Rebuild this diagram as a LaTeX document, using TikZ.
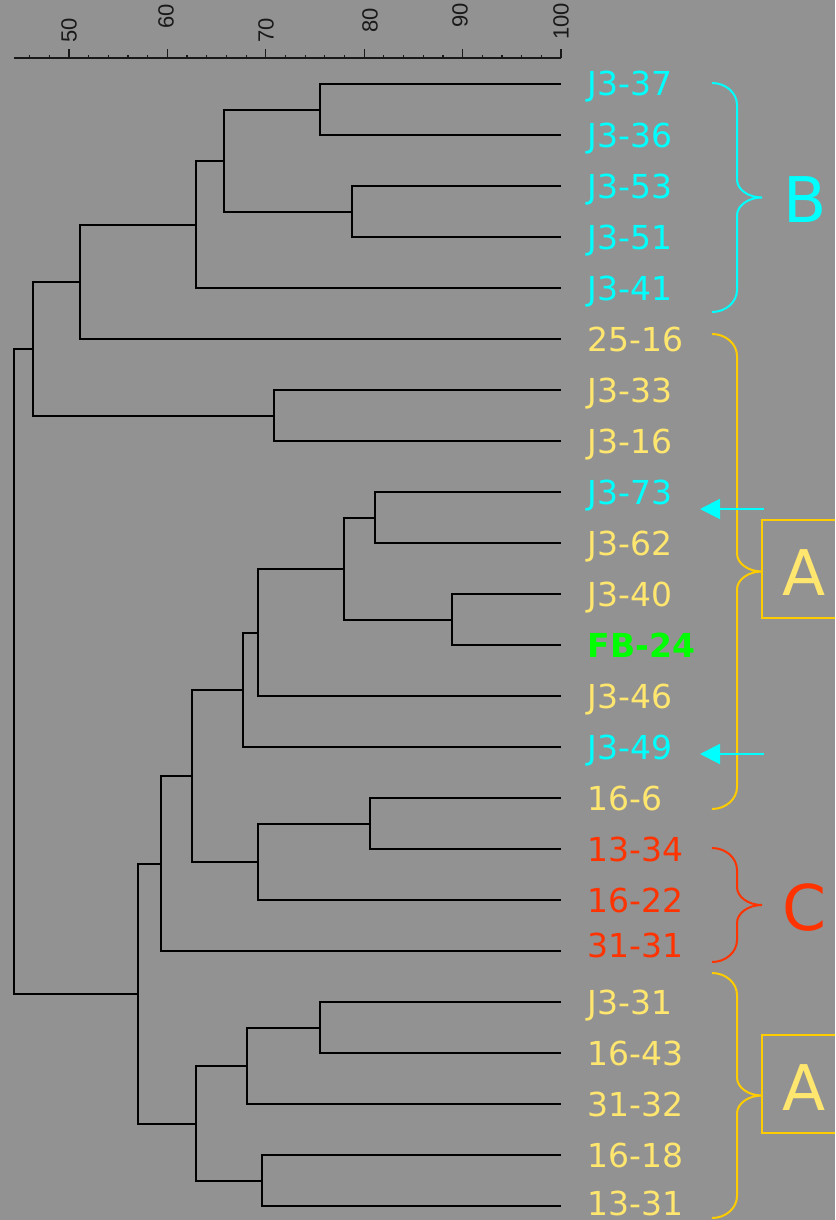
\documentclass[tikz,border=0pt]{standalone}
\usepackage{fontspec}
\setmainfont{DejaVu Sans}
\newfontfamily\scalefont{Liberation Sans}
\usetikzlibrary{arrows.meta,calc}

\definecolor{bggray}{RGB}{146,146,146}
\definecolor{lblcyan}{RGB}{0,255,255}
\definecolor{lblyellow}{RGB}{255,230,110}
\definecolor{lblgreen}{RGB}{0,255,0}
\definecolor{lblred}{RGB}{255,51,0}
\definecolor{gold}{RGB}{255,204,0}
\definecolor{axisgray}{RGB}{25,25,25}

% join two children (#3, #4) at similarity level x = #2, naming the join #1
\newcommand\clusterjoin[4]{%
  \path let \p1=($(#3)!.5!(#4)$), \p2=(#2,0), \n1={round(\y1)} in (\x2,\n1) coordinate (#1);
  \draw[branch] (#3) -| (#1) |- (#4);}

% curly brace from #2 (top end) through #3 (tip) to #4 (bottom end)
\newcommand\groupbrace[4]{%
  \draw[bracestyle,#1] (#2) .. controls +(13.8,0) and +(0,-12.1) .. ++(25,22)
    -- ($(#3)+(-25,-18)$)
    .. controls +(0,9.9) and +(-13.8,0) .. (#3)
    .. controls +(-13.8,0) and +(0,-9.9) .. ++(-25,18)
    -- ($(#4)+(25,-22)$)
    .. controls +(0,12.1) and +(13.8,0) .. (#4);}

\tikzset{
  branch/.style={draw=black, line width=2pt},
  axisline/.style={draw=axisgray, line width=1.2pt},
  scalelbl/.style={rotate=90, anchor=west, inner sep=0pt, text=axisgray,
    font=\scalefont\fontsize{22}{22}\selectfont},
  leaf/.style={anchor=base west, inner sep=0pt, font=\fontsize{33}{40}\selectfont},
  bracestyle/.style={line width=2pt},
  grouplbl/.style={inner sep=0pt, font=\fontsize{63}{70}\selectfont},
  groupbox/.style={draw=gold, line width=2pt, anchor=north west, inner sep=0pt,
    minimum width=84pt, minimum height=98pt, text=lblyellow,
    text height=53pt, text depth=0pt, font=\fontsize{63}{70}\selectfont},
  pointer/.style={draw=lblcyan, line width=2pt, -{Triangle[length=20pt,width=20pt]}},
}

\begin{document}
\begin{tikzpicture}[x=1pt,y=-1pt]
\useasboundingbox (0,0) rectangle (835,1220);
\clip (0,0) rectangle (835,1220);
\fill[bggray] (0,0) rectangle (835,1220);

% similarity scale
\coordinate (ax0) at (14,58);
\coordinate (ax1) at (561,58);
\draw[axisline] (ax0) -- (ax1);
\foreach \v in {46,48,...,98}
  \draw[axisline] ({69+(\v-50)*9.84},58) -- ++(0,-3);
\foreach \v in {50,60,...,100}
  \draw[axisline] ({69+(\v-50)*9.84},58) -- ++(0,-9);
\node[scalelbl] (s50)  at (69,43)  {50};
\node[scalelbl] (s60)  at (166,29) {60};
\node[scalelbl] (s70)  at (266,43) {70};
\node[scalelbl] (s80)  at (370,33) {80};
\node[scalelbl] (s90)  at (460,28) {90};
\node[scalelbl] (s100) at (561,40) {100};

% leaf ends
\foreach \i in {0,...,22}
  \coordinate (L\i) at (561,{84+51*\i});

% leaf labels
\node[leaf, text=lblcyan]   (t0)  at (587.5,96)   {J3-37};
\node[leaf, text=lblcyan]   (t1)  at (587.5,147)  {J3-36};
\node[leaf, text=lblcyan]   (t2)  at (587.5,198)  {J3-53};
\node[leaf, text=lblcyan]   (t3)  at (587.5,249)  {J3-51};
\node[leaf, text=lblcyan]   (t4)  at (587.5,300)  {J3-41};
\node[leaf, text=lblyellow] (t5)  at (587.5,351)  {25-16};
\node[leaf, text=lblyellow] (t6)  at (587.5,402)  {J3-33};
\node[leaf, text=lblyellow] (t7)  at (587.5,453)  {J3-16};
\node[leaf, text=lblcyan]   (t8)  at (587.5,504)  {J3-73};
\node[leaf, text=lblyellow] (t9)  at (587.5,555)  {J3-62};
\node[leaf, text=lblyellow] (t10) at (587.5,606)  {J3-40};
\node[leaf, text=lblgreen, font=\fontsize{33}{40}\selectfont\bfseries]
                            (t11) at (587.5,657)  {FB-24};
\node[leaf, text=lblyellow] (t12) at (587.5,708)  {J3-46};
\node[leaf, text=lblcyan]   (t13) at (587.5,759)  {J3-49};
\node[leaf, text=lblyellow] (t14) at (587.5,810)  {16-6};
\node[leaf, text=lblred]    (t15) at (587.5,861)  {13-34};
\node[leaf, text=lblred]    (t16) at (587.5,912)  {16-22};
\node[leaf, text=lblred]    (t17) at (587.5,957)  {31-31};
\node[leaf, text=lblyellow] (t18) at (587.5,1014) {J3-31};
\node[leaf, text=lblyellow] (t19) at (587.5,1065) {16-43};
\node[leaf, text=lblyellow] (t20) at (587.5,1116) {31-32};
\node[leaf, text=lblyellow] (t21) at (587.5,1167) {16-18};
\node[leaf, text=lblyellow] (t22) at (587.5,1215) {13-31};

% dendrogram
\clusterjoin{a}{320}{L0}{L1}
\clusterjoin{b}{352}{L2}{L3}
\clusterjoin{c}{224}{a}{b}
\clusterjoin{d}{196}{c}{L4}
\clusterjoin{e}{80}{d}{L5}
\clusterjoin{f}{274}{L6}{L7}
\clusterjoin{g}{33}{e}{f}
\clusterjoin{h}{375}{L8}{L9}
\clusterjoin{i}{452}{L10}{L11}
\clusterjoin{j}{344}{h}{i}
\clusterjoin{k}{258}{j}{L12}
\clusterjoin{l}{243}{k}{L13}
\clusterjoin{m}{370}{L14}{L15}
\clusterjoin{n}{258}{m}{L16}
\clusterjoin{o}{192}{l}{n}
\clusterjoin{p}{161}{o}{L17}
\clusterjoin{q}{320}{L18}{L19}
\clusterjoin{r}{247}{q}{L20}
\clusterjoin{s}{262}{L21}{L22}
\clusterjoin{t}{196}{r}{s}
\clusterjoin{u}{138}{p}{t}
\clusterjoin{root}{14}{g}{u}

% group braces
\coordinate (bBtop) at (712,83);   \coordinate (bBtip) at (762,197.5);  \coordinate (bBbot) at (712,312);
\coordinate (bA1top) at (712,334); \coordinate (bA1tip) at (762,571.5); \coordinate (bA1bot) at (712,809);
\coordinate (bCtop) at (712,848);  \coordinate (bCtip) at (762,905);    \coordinate (bCbot) at (712,962);
\coordinate (bA2top) at (712,973); \coordinate (bA2tip) at (762,1095.5);\coordinate (bA2bot) at (712,1218);
\groupbrace{draw=lblcyan}{bBtop}{bBtip}{bBbot}
\groupbrace{draw=gold}{bA1top}{bA1tip}{bA1bot}
\groupbrace{draw=lblred}{bCtop}{bCtip}{bCbot}
\groupbrace{draw=gold}{bA2top}{bA2tip}{bA2bot}

% group labels
\node[grouplbl, text=lblcyan] (lblB) at (805,199.5) {B};
\node[grouplbl, text=lblred]  (lblC) at (804,907.5) {C};
\node[groupbox] (boxA1) at (761,519)  {A};
\node[groupbox] (boxA2) at (761,1034) {A};

% markers for misplaced strains
\coordinate (p1s) at (764,509); \coordinate (p1e) at (700,509);
\coordinate (p2s) at (764,754); \coordinate (p2e) at (700,754);
\draw[pointer] (p1s) -- (p1e);
\draw[pointer] (p2s) -- (p2e);
\end{tikzpicture}
\end{document}
